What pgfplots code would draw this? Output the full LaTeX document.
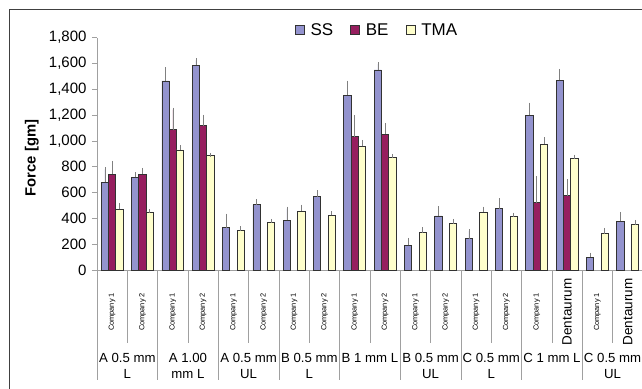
\documentclass[border=0pt]{standalone}
\usepackage{pgfplots}
\pgfplotsset{compat=1.18}
\usepackage{fontspec}
\setmainfont{Liberation Sans}
\definecolor{ssc}{RGB}{147,147,206}
\definecolor{bec}{RGB}{150,30,95}
\definecolor{tmac}{RGB}{255,255,204}
\definecolor{outl}{RGB}{50,50,50}
\definecolor{axg}{RGB}{160,160,160}
\definecolor{frame}{RGB}{64,64,64}
\newcommand{\cs}{\fontsize{7.4}{8}\selectfont Company}
\newcommand{\dt}{\fontsize{13.5}{15}\selectfont Dentaurum}
\begin{document}
\begin{tikzpicture}
\useasboundingbox (0,0) rectangle (642pt,388pt);
\draw[frame, line width=1pt] (9.3pt,-2pt) -- (9.3pt,378pt) -- (650pt,378pt);
% separators
\foreach \x in {-0.5,1.5,3.5,5.5,7.5,9.5,11.5,13.5,15.5} {
  \draw[axg, line width=0.8pt] ({97pt+(\x+0.5)*30.3278pt},118pt) -- ++(0,-110pt);
}
\foreach \x in {0.5,2.5,4.5,6.5,8.5,10.5,12.5,14.5,16.5} {
  \draw[axg, line width=0.8pt] ({97pt+(\x+0.5)*30.3278pt},118pt) -- ++(0,-73pt);
}
% group labels
\foreach \x/\a/\b in {0.5/A 0.5 mm/L, 2.5/A 1.00/mm L, 4.5/A 0.5 mm/UL, 6.5/B 0.5 mm/L, 8.5/B 1 mm L/, 10.5/B 0.5 mm/UL, 12.5/C 0.5 mm/L, 14.5/C 1 mm L/, 16.5/C 0.5 mm/UL} {
  \node[anchor=base, inner sep=0pt, font=\fontsize{13.2}{15}\selectfont] at ({97pt+(\x+0.5)*30.3278pt},{118pt-92.7pt}) {\a};
  \node[anchor=base, inner sep=0pt, font=\fontsize{13.2}{15}\selectfont] at ({97pt+(\x+0.5)*30.3278pt},{118pt-108.3pt}) {\b};
}
\begin{axis}[
  at={(97pt,118pt)}, anchor=south west,
  scale only axis, width=545.9pt, height=232.3pt,
  xmin=-0.5, xmax=17.5, ymin=0, ymax=1800,
  clip=false,
  axis x line*=bottom, axis y line*=left,
  axis line style={draw=axg, line width=0.8pt},
  ybar=0pt, bar width=7.3pt,
  ytick={0,200,...,1800},
  /pgf/number format/assume math mode=true,
  /pgf/number format/1000 sep={,},
  yticklabel style={font=\fontsize{15}{17}\selectfont, xshift=-2pt},
  ytick style={draw=axg, line width=0.8pt},
  tick align=outside, major tick length=5pt,
  xtick={0,...,17},
  xtick style={draw=none},
  xticklabels={{\cs{} 1},{\cs{} 2},{\cs{} 1},{\cs{} 2},{\cs{} 1},{\cs{} 2},{\cs{} 1},{\cs{} 2},{\cs{} 1},{\cs{} 2},{\cs{} 1},{\cs{} 2},{\cs{} 1},{\cs{} 2},{\cs{} 1},{\dt},{\cs{} 1},{\dt}},
  xticklabel style={yshift=-37pt, rotate=90, anchor=center, inner sep=0pt},
  ylabel={\textbf{Force [gm]}},
  every axis y label/.style={at={(axis description cs:-0.1196,0.482)}, rotate=90, anchor=center, font=\fontsize{14.8}{16}\selectfont},
  legend columns=-1,
  legend style={draw=none, fill=none, at={(axis description cs:0.362,1.033)}, anchor=west,
    font=\fontsize{17}{19}\selectfont, inner sep=0pt, column sep=4pt,
    /tikz/every even column/.append style={column sep=15pt}},
  error bars/y dir=plus, error bars/y explicit,
  error bars/error bar style={draw=gray, line width=0.6pt},
  error bars/error mark options={draw=gray, line width=0.6pt, mark size=2pt},
]
\addplot[fill=ssc, draw=outl, line width=0.7pt,
  legend image code/.code={\draw[fill=ssc, draw=outl, line width=0.7pt] (0pt,-4.3pt) rectangle (9pt,4.3pt);}]
coordinates {
(0,680) +- (0,100)
(1,718) +- (0,22)
(2,1465) +- (0,90)
(3,1588) +- (0,37)
(4,327) +- (0,94)
(5,505) +- (0,28)
(6,385) +- (0,91)
(7,567) +- (0,36)
(8,1355) +- (0,97)
(9,1550) +- (0,45)
(10,190) +- (0,44)
(11,419) +- (0,59)
(12,242) +- (0,60)
(13,476) +- (0,65)
(14,1200) +- (0,81)
(15,1470) +- (0,73)
(16,99) +- (0,20)
(17,377) +- (0,57)
};
\addlegendentry{SS}
\addplot[fill=bec, draw=outl, line width=0.7pt,
  legend image code/.code={\draw[fill=bec, draw=outl, line width=0.7pt] (0pt,-4.3pt) rectangle (9pt,4.3pt);}]
coordinates {
(0,742) +- (0,88)
(1,743) +- (0,32)
(2,1088) +- (0,155)
(3,1118) +- (0,70)
(8,1032) +- (0,150)
(9,1050) +- (0,75)
(14,523) +- (0,189)
(15,575) +- (0,111)
};
\addlegendentry{BE}
\addplot[fill=tmac, draw=outl, line width=0.7pt,
  legend image code/.code={\draw[fill=tmac, draw=outl, line width=0.7pt] (0pt,-4.3pt) rectangle (9pt,4.3pt);}]
coordinates {
(0,470) +- (0,35)
(1,450) +- (0,5)
(2,930) +- (0,22)
(3,888) +- (0,5)
(4,304) +- (0,18)
(5,369) +- (0,11)
(6,458) +- (0,33)
(7,424) +- (0,14)
(8,958) +- (0,35)
(9,872) +- (0,12)
(10,290) +- (0,26)
(11,359) +- (0,21)
(12,450) +- (0,26)
(13,416) +- (0,13)
(14,975) +- (0,37)
(15,866) +- (0,13)
(16,281) +- (0,29)
(17,351) +- (0,21)
};
\addlegendentry{TMA}
\end{axis}
\end{tikzpicture}
\end{document}
